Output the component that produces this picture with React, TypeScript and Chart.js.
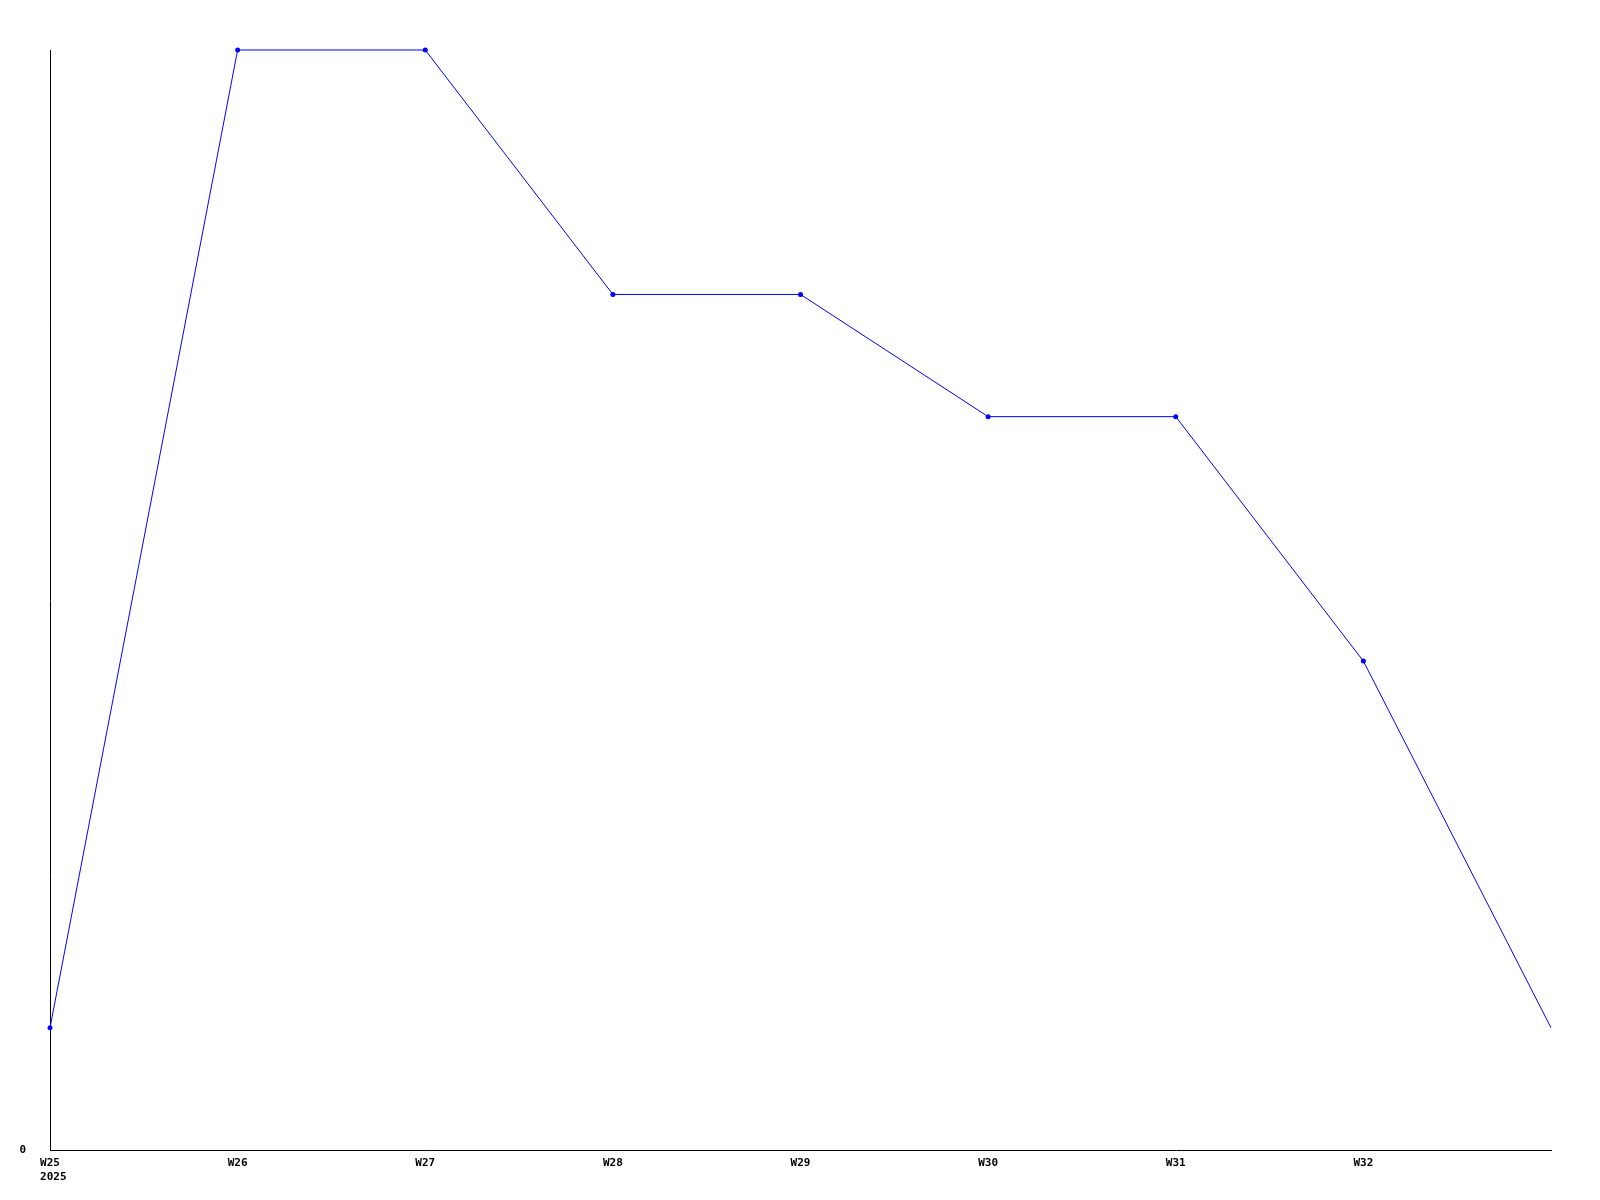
import React, { useEffect, useRef } from "react";
import { Chart, registerables } from "chart.js";

Chart.register(...registerables);

const weeks = ["W25", "W26", "W27", "W28", "W29", "W30", "W31", "W32", "W33"];
const values = [1, 9, 9, 7, 7, 6, 6, 4, 1];
const yearLabel = "2025";
const yTicks = [0];

export default function App() {
  const ref = useRef<HTMLCanvasElement | null>(null);
  useEffect(() => {
    if (!ref.current) return;
    const font = { family: "'DejaVu Sans Mono', monospace", size: 11, weight: "bold" as const, lineHeight: 1.3 };
    const chart = new Chart(ref.current, {
      type: "line",
      data: {
        labels: weeks,
        datasets: [
          {
            data: values,
            borderColor: "#0000ff",
            backgroundColor: "#0000ff",
            borderWidth: 1,
            pointRadius: values.map((_, i) => (i === values.length - 1 ? 0 : 2.5)),
            pointBorderWidth: 0,
            tension: 0,
            clip: false as any,
          },
        ],
      },
      options: {
        animation: false,
        responsive: false,
        maintainAspectRatio: false,
        layout: { padding: { left: 0, top: 50, right: 49, bottom: 0 } },
        plugins: { legend: { display: false }, tooltip: { enabled: false } },
        scales: {
          x: {
            type: "category",
            offset: false,
            grid: { display: false, drawTicks: false },
            border: { display: true, color: "#000", width: 1 },
            ticks: {
              color: "#000",
              font,
              padding: 6,
              maxRotation: 0,
              autoSkip: false,
              callback: (_v: any, i: number) =>
                i === 0 ? [weeks[0], " " + yearLabel] : i === weeks.length - 1 ? "" : weeks[i],
            },
            afterFit: (s: any) => {
              s.height = 50;
            },
          },
          y: {
            min: 0,
            max: 9,
            grid: { display: false, drawTicks: false },
            border: { display: true, color: "#000", width: 1 },
            afterBuildTicks: (s: any) => {
              s.ticks = yTicks.map((v) => ({ value: v }));
            },
            ticks: { color: "#000", font, padding: 24 },
            afterFit: (s: any) => {
              s.width = 50;
            },
          },
        },
      },
    });
    return () => chart.destroy();
  }, []);
  return (
    <div style={{ position: "absolute", left: 0, top: 0, width: 1600, height: 1200, background: "#fff" }}>
      <canvas ref={ref} width={1600} height={1200} style={{ width: 1600, height: 1200, display: "block" }} />
    </div>
  );
}
